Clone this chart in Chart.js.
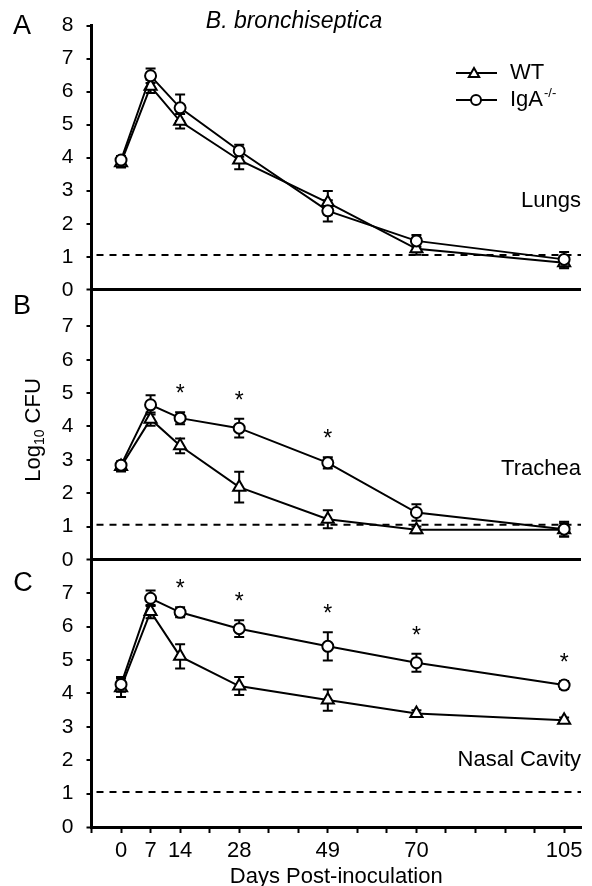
<!DOCTYPE html>
<html>
<head>
<meta charset="utf-8">
<title>B. bronchiseptica - Log10 CFU</title>
<script src="https://cdn.jsdelivr.net/npm/chart.js@4.4.1/dist/chart.umd.min.js"></script>
<style>
  html, body { margin: 0; padding: 0; background: #fff; }
  #wrap { width: 592px; height: 886px; }
</style>
</head>
<body>
<div id="wrap"><canvas id="cfuChart" width="592" height="886"></canvas></div>
<script>
// Days post-inoculation (x values)
const days = [0, 7, 14, 28, 49, 70, 105];
const xTickDays = [-7, 0, 7, 14, 21, 28, 35, 42, 49, 56, 63, 70, 77, 84, 91, 98, 105];

// Panel A - Lungs
const lungsWT = [3.85, 6.16, 5.1, 3.93, 2.64, 1.24, 0.82];
const lungsWTErr = [0.15, 0.2, 0.22, 0.28, 0.35, 0.18, 0.17];
const lungsIgA = [3.93, 6.48, 5.51, 4.21, 2.39, 1.48, 0.92];
const lungsIgAErr = [0.12, 0.22, 0.4, 0.18, 0.32, 0.18, 0.22];
const lungsSig = [0, 0, 0, 0, 0, 0, 0];

// Panel B - Trachea
const tracheaWT = [2.8, 4.22, 3.42, 2.18, 1.22, 0.9, 0.9];
const tracheaWTErr = [0.15, 0.2, 0.22, 0.46, 0.27, 0.1, 0.2];
const tracheaIgA = [2.84, 4.65, 4.25, 3.95, 2.91, 1.42, 0.92];
const tracheaIgAErr = [0.1, 0.29, 0.18, 0.28, 0.17, 0.25, 0.22];
const tracheaSig = [0, 0, 1, 1, 1, 0, 0];

// Panel C - Nasal cavity
const nasalWT = [4.17, 6.45, 5.11, 4.22, 3.8, 3.4, 3.2];
const nasalWTErr = [0.28, 0.2, 0.36, 0.27, 0.32, 0.1, 0.08];
const nasalIgA = [4.27, 6.85, 6.43, 5.94, 5.41, 4.92, 4.25];
const nasalIgAErr = [0.22, 0.23, 0.15, 0.25, 0.42, 0.27, 0.12];
const nasalSig = [0, 0, 1, 1, 1, 1, 1];

const yTicksA = [0, 1, 2, 3, 4, 5, 6, 7, 8];
const yTicksBC = [0, 1, 2, 3, 4, 5, 6, 7];
const detectionLimit = 1.05;

const FONT = '"Liberation Sans", Arial, Helvetica, sans-serif';
Chart.defaults.color = '#000';
Chart.defaults.font.family = FONT;

const panels = [
    { axis: 'yA', letter: 'A', organ: 'Lungs', max: 8, ticks: yTicksA, share: 266,
      wt: lungsWT, wtErr: lungsWTErr, iga: lungsIgA, igaErr: lungsIgAErr, sig: lungsSig },
    { axis: 'yB', letter: 'B', organ: 'Trachea', max: 8.1, ticks: yTicksBC, share: 272,
      wt: tracheaWT, wtErr: tracheaWTErr, iga: tracheaIgA, igaErr: tracheaIgAErr, sig: tracheaSig },
    { axis: 'yC', letter: 'C', organ: 'Nasal Cavity', max: 8, ticks: yTicksBC, share: 269,
      wt: nasalWT, wtErr: nasalWTErr, iga: nasalIgA, igaErr: nasalIgAErr, sig: nasalSig }
];

// label placement (px from panel bottom / canvas left)
const letterPos = { A: [22, 27], B: [22, 307], C: [23, 584] };
const organOffset = { A: 89, B: 91, C: 67 };

const toPoints = vals => days.map((d, i) => ({ x: d, y: vals[i] }));

const datasets = [];
panels.forEach(p => {
    // IgA first so its circles sit on top of the triangles
    datasets.push({
        label: 'IgA-/-', yAxisID: p.axis, data: toPoints(p.iga),
        borderColor: '#000', borderWidth: 2, pointStyle: 'circle', pointRadius: 5.5,
        pointBackgroundColor: '#fff', pointBorderColor: '#000', pointBorderWidth: 2, tension: 0
    });
    datasets.push({
        label: 'WT', yAxisID: p.axis, data: toPoints(p.wt),
        borderColor: '#000', borderWidth: 2, pointStyle: 'triangle', pointRadius: 7,
        pointBackgroundColor: '#fff', pointBorderColor: '#000', pointBorderWidth: 2, tension: 0
    });
});

function yAxis(p, order) {
    return {
        type: 'linear', position: 'left', stack: 'panels', stackWeight: p.share, weight: order,
        min: 0, max: p.max,
        border: { display: true, color: '#000', width: 3 },
        grid: {
            drawOnChartArea: true,
            color: c => (c.tick && c.tick.value === 0) ? '#000' : 'rgba(0,0,0,0)',
            lineWidth: c => (c.tick && c.tick.value === 0) ? 3 : 0,
            tickColor: '#000', tickWidth: 2, tickLength: 5
        },
        ticks: { font: { size: 21 }, padding: 13, color: '#000', autoSkip: false },
        afterBuildTicks: s => { s.ticks = p.ticks.map(v => ({ value: v })); },
        afterFit: s => { s.width = 91.5; }
    };
}

const scales = {
    x: {
        type: 'linear', position: 'bottom', min: -7, max: 109,
        border: { display: true, color: '#000', width: 3 },
        grid: { drawOnChartArea: false, tickColor: '#000', tickWidth: 2, tickLength: 6 },
        ticks: {
            font: { size: 22 }, padding: 5, color: '#000', autoSkip: false, maxRotation: 0,
            callback: v => days.includes(v) ? String(v) : ''
        },
        title: {
            display: true, text: 'Days Post-inoculation', font: { size: 22, lineHeight: 1 },
            padding: { top: 0, bottom: -2 }, color: '#000'
        },
        afterBuildTicks: s => { s.ticks = xTickDays.map(v => ({ value: v })); },
        afterFit: s => { s.height = 59; }
    }
};
panels.forEach((p, i) => { scales[p.axis] = yAxis(p, 3 - i); });

function drawTriangle(ctx, x, y, r) {
    let rad = 0;
    ctx.beginPath();
    ctx.moveTo(x + Math.sin(rad) * r, y - Math.cos(rad) * r);
    rad += 2 * Math.PI / 3;
    ctx.lineTo(x + Math.sin(rad) * r, y - Math.cos(rad) * r);
    rad += 2 * Math.PI / 3;
    ctx.lineTo(x + Math.sin(rad) * r, y - Math.cos(rad) * r);
    ctx.closePath();
    ctx.fill();
    ctx.stroke();
}

const decor = {
    id: 'decor',
    beforeDatasetsDraw(chart) {
        const ctx = chart.ctx, xs = chart.scales.x, area = chart.chartArea;
        ctx.save();
        ctx.strokeStyle = '#000';
        ctx.lineWidth = 2;
        // detection limit
        ctx.setLineDash([7, 6]);
        panels.forEach(p => {
            const y = chart.scales[p.axis].getPixelForValue(detectionLimit);
            ctx.beginPath();
            ctx.moveTo(area.left + 5, y);
            ctx.lineTo(area.right, y);
            ctx.stroke();
        });
        ctx.setLineDash([]);
        // error bars (SEM)
        panels.forEach(p => {
            const ys = chart.scales[p.axis];
            [[p.wt, p.wtErr], [p.iga, p.igaErr]].forEach(([vals, errs]) => {
                vals.forEach((v, i) => {
                    const px = xs.getPixelForValue(days[i]);
                    const top = ys.getPixelForValue(v + errs[i]);
                    const bot = ys.getPixelForValue(v - errs[i]);
                    ctx.beginPath();
                    ctx.moveTo(px, top); ctx.lineTo(px, bot);
                    ctx.moveTo(px - 5, top); ctx.lineTo(px + 5, top);
                    ctx.moveTo(px - 5, bot); ctx.lineTo(px + 5, bot);
                    ctx.stroke();
                });
            });
        });
        ctx.restore();
    },
    afterDraw(chart) {
        const ctx = chart.ctx, xs = chart.scales.x, area = chart.chartArea;
        ctx.save();
        ctx.fillStyle = '#000';
        ctx.strokeStyle = '#000';

        // significance stars
        ctx.font = '23px ' + FONT;
        ctx.textAlign = 'center';
        ctx.textBaseline = 'alphabetic';
        panels.forEach(p => {
            const ys = chart.scales[p.axis];
            p.sig.forEach((s, i) => {
                if (!s) return;
                const px = xs.getPixelForValue(days[i]);
                const top = ys.getPixelForValue(p.iga[i] + p.igaErr[i]);
                ctx.fillText('*', px, top - 11);
            });
        });

        // panel letters and organ names
        panels.forEach(p => {
            const ys = chart.scales[p.axis];
            ctx.font = '27px ' + FONT;
            ctx.textAlign = 'center';
            ctx.textBaseline = 'middle';
            ctx.fillText(p.letter, letterPos[p.letter][0], letterPos[p.letter][1]);
            ctx.font = '22px ' + FONT;
            ctx.textAlign = 'right';
            ctx.fillText(p.organ, area.right, ys.bottom - organOffset[p.letter]);
        });

        // title
        ctx.font = 'italic 23px ' + FONT;
        ctx.textAlign = 'center';
        ctx.textBaseline = 'middle';
        ctx.fillText('B. bronchiseptica', 294, 22);

        // y axis title with subscript
        ctx.save();
        ctx.translate(34, 430);
        ctx.rotate(-Math.PI / 2);
        ctx.textAlign = 'left';
        ctx.textBaseline = 'middle';
        const big = '22px ' + FONT, small = '14px ' + FONT;
        ctx.font = big; const w1 = ctx.measureText('Log').width; const w3 = ctx.measureText(' CFU').width;
        ctx.font = small; const w2 = ctx.measureText('10').width;
        let tx = -(w1 + w2 + w3) / 2;
        ctx.font = big; ctx.fillText('Log', tx, 0); tx += w1;
        ctx.font = small; ctx.fillText('10', tx, 6); tx += w2;
        ctx.font = big; ctx.fillText(' CFU', tx, 0);
        ctx.restore();

        // legend
        ctx.lineWidth = 2;
        ctx.fillStyle = '#000';
        const rows = [
            { y: 73, label: 'WT', style: 'triangle' },
            { y: 100, label: 'IgA', sup: '-/-', style: 'circle' }
        ];
        rows.forEach(r => {
            ctx.beginPath();
            ctx.moveTo(456, r.y); ctx.lineTo(497, r.y);
            ctx.stroke();
            ctx.fillStyle = '#fff';
            if (r.style === 'triangle') {
                drawTriangle(ctx, 474, r.y + 1, 6);
            } else {
                ctx.beginPath();
                ctx.arc(476, r.y, 5, 0, 2 * Math.PI);
                ctx.fill();
                ctx.stroke();
            }
            ctx.fillStyle = '#000';
            ctx.font = '22px ' + FONT;
            ctx.textAlign = 'left';
            ctx.textBaseline = 'middle';
            ctx.fillText(r.label, 510, r.y);
            if (r.sup) {
                const w = ctx.measureText(r.label).width;
                ctx.font = '13px ' + FONT;
                ctx.fillText(r.sup, 510 + w + 1, r.y - 7);
            }
        });
        ctx.restore();
    }
};

new Chart(document.getElementById('cfuChart').getContext('2d'), {
    type: 'line',
    data: { datasets: datasets },
    options: {
        responsive: false,
        animation: false,
        devicePixelRatio: 1,
        layout: { padding: { top: 19.5, right: 11, left: 0, bottom: 0 } },
        plugins: { legend: { display: false }, tooltip: { enabled: false } },
        scales: scales
    },
    plugins: [decor]
});
</script>
</body>
</html>
